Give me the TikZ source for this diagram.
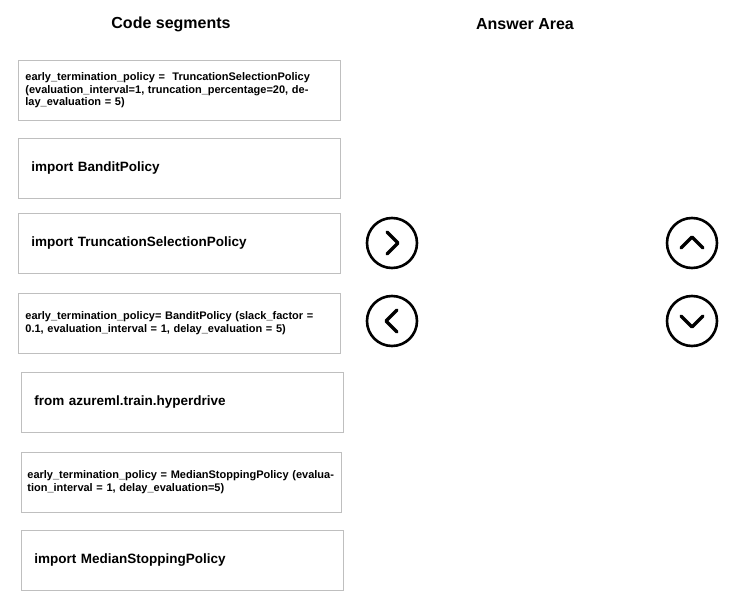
\documentclass[tikz,border=0pt]{standalone}
\usepackage{fontspec}
\setmainfont{Liberation Sans}
\usepackage{tikz}

\tikzset{
	seg/.style={shape=rectangle,draw=black!25,line width=0.8pt,anchor=north west,minimum width=322,minimum height=60,text width=308,align=left,inner xsep=6,font=\bfseries\fontsize{11}{12.5}\selectfont},
	imp/.style={seg,inner xsep=13,text width=296,font=\bfseries\fontsize{13.5}{15}\selectfont},
	btn/.style={shape=circle,draw=black,line width=2.6pt,minimum size=50},
	chev/.style={line width=3.4pt,line cap=round,line join=round}
}

\begin{document}
\begin{tikzpicture}[x=1pt,y=-1pt]
	\useasboundingbox (0,0) rectangle (747,599);

	\node[font=\bfseries\fontsize{16}{18}\selectfont] (hcode) at (171, 24) {Code segments};
	\node[font=\bfseries\fontsize{16}{18}\selectfont] (hans) at (525, 24) {Answer Area};

	\node[seg] (s1) at (18, 60) {early\_termination\_policy = \ TruncationSelectionPolicy (evaluation\_interval=1, truncation\_percentage=20, delay\_evaluation = 5)};
	\node[imp] (s2) at (18, 138) {import BanditPolicy};
	\node[imp] (s3) at (18, 213) {import TruncationSelectionPolicy};
	\node[seg] (s4) at (18, 293) {early\_termination\_policy= BanditPolicy (slack\_factor = 0.1, evaluation\_interval = 1, delay\_evaluation = 5)};
	\node[imp,minimum width=319] (s5) at (21, 372) {from azureml.train.hyperdrive};
	\node[seg,minimum width=319] (s6) at (21, 452) {early\_termination\_policy = MedianStoppingPolicy (evaluation\_interval = 1, delay\_evaluation=5)};
	\node[imp,minimum width=319] (s7) at (21, 530) {import MedianStoppingPolicy};

	\node[btn] (right) at (392, 243) {};
	\node[btn] (left) at (392, 321) {};
	\node[btn] (up) at (692, 243) {};
	\node[btn] (down) at (692, 321) {};

	\draw[chev] ([shift={(-5,-11)}]right.center) -- ([shift={(6,0)}]right.center) -- ([shift={(-5,11)}]right.center);
	\draw[chev] ([shift={(5,-11)}]left.center) -- ([shift={(-6,0)}]left.center) -- ([shift={(5,11)}]left.center);
	\draw[chev] ([shift={(-11,5)}]up.center) -- ([shift={(0,-6)}]up.center) -- ([shift={(11,5)}]up.center);
	\draw[chev] ([shift={(-11,-5)}]down.center) -- ([shift={(0,6)}]down.center) -- ([shift={(11,-5)}]down.center);
\end{tikzpicture}
\end{document}
